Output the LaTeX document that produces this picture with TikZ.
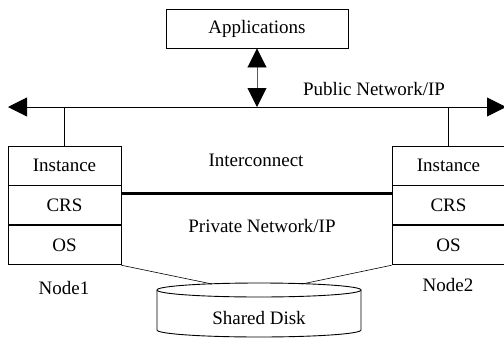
\documentclass[tikz,border=0pt]{standalone}
\usepackage{fontspec}
\setmainfont{Liberation Serif}
\usetikzlibrary{arrows.meta,positioning,calc}

\tikzset{
  layer/.style={draw, line width=0.9pt, minimum width=113pt, minimum height=39pt, inner sep=0pt},
  lbl/.style={inner sep=0pt},
  bigtip/.tip={Triangle[length=19pt, width=19pt, fill=black, color=black]}
}

\begin{document}
\begin{tikzpicture}[x=1pt, y=-1pt, line width=0.9pt, font=\fontsize{19}{22}\selectfont]
\useasboundingbox (0,0) rectangle (504,341);
% top
\node[draw, minimum width=182pt, minimum height=39pt] (apps) at (257,28.5) {Applications};
\coordinate (pubL) at (8,107);
\coordinate (pubR) at (506,107);
\coordinate (pubM) at (257,107);
\draw[bigtip-bigtip] (pubL) -- (pubR);
\draw[bigtip-bigtip, draw=black!65] (apps.south) -- (pubM);
\node[lbl] (pub) at (374,89) {Public Network/IP};

% node stacks
\node[layer] (inst1) at (64.5,165.5) {Instance};
\node[layer, below=0pt of inst1] (crs1) {CRS};
\node[layer, below=0pt of crs1] (os1) {OS};
\node[layer] (inst2) at (448.5,165.5) {Instance};
\node[layer, below=0pt of inst2] (crs2) {CRS};
\node[layer, below=0pt of crs2] (os2) {OS};
\draw (inst1.north) -- (inst1.north |- pubL);
\draw (inst2.north) -- (inst2.north |- pubR);
\node[lbl] (n1) at (64,288) {Node1};
\node[lbl] (n2) at (448,285) {Node2};

% interconnect
\draw[line width=3pt] ([yshift=-8pt]inst1.south east) -- ([yshift=-8pt]inst2.south west);
\node[lbl] (ic) at (256,160) {Interconnect};
\node[lbl] (priv) at (262,226) {Private Network/IP};

% shared disk
\draw (157,290) arc[start angle=180, end angle=-180, x radius=102, y radius=7];
\draw (157,290) -- (157,330) arc[start angle=180, end angle=0, x radius=102, y radius=7] -- (361,290);
\node[lbl] (disk) at (259,318) {Shared Disk};
\coordinate (diskL) at (212,284);
\coordinate (diskR) at (302,284);
\draw[line width=0.6pt] (os1.south east) -- (diskL);
\draw[line width=0.6pt] (os2.south west) -- (diskR);
\end{tikzpicture}
\end{document}
